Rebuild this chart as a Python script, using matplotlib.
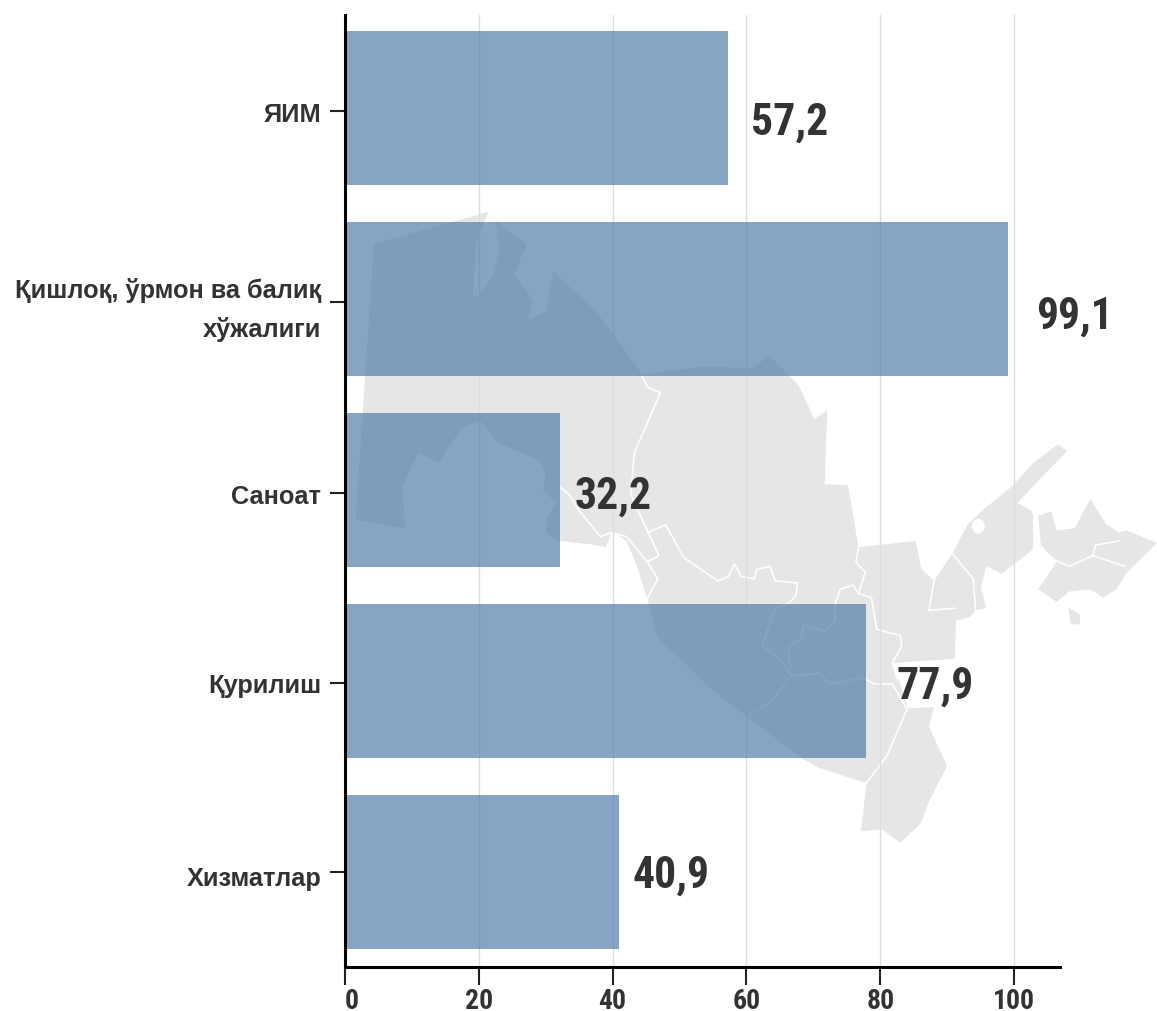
import matplotlib
matplotlib.use("Agg")
import matplotlib.pyplot as plt
from matplotlib.patches import Polygon, Ellipse
from matplotlib.transforms import ScaledTranslation

categories = ["ЯИМ", "Қишлоқ, ўрмон ва балиқ\nхўжалиги", "Саноат", "Қурилиш", "Хизматлар"]
values = [57.2, 99.1, 32.2, 77.9, 40.9]
value_labels = ["57,2", "99,1", "32,2", "77,9", "40,9"]
xticks = [0, 20, 40, 60, 80, 100]

# label nudges in points (dx, dy), the source placed them by hand
label_nudge = [(17, -10.5), (20, -12.5), (10, -5), (21.5, -4.2), (10, -2.7)]
tick_nudge = [0.018, 0.013, 0.016, 0.01, 0.0]
ylabel_nudge = [-1, 0.5, -0.8, -0.2, -3]

# background map outline, traced in pixels from a crop at (340, 200), scaled 1.919 by 2.376
map_main = [(30, 760), (125, 780), (120, 680), (150, 600), (190, 625), (215, 575), (235, 540), (270, 525),
            (300, 575), (385, 620), (395, 650), (390, 690), (415, 720), (395, 760), (395, 790), (420, 810),
            (480, 818), (510, 825), (522, 788), (550, 810), (570, 870),
            (590, 950), (610, 1040), (720, 1170), (890, 1330), (920, 1350), (1010, 1385), (1000, 1500),
            (1040, 1495), (1075, 1528), (1115, 1480), (1130, 1430), (1165, 1345), (1130, 1250), (1140, 1205),
            (1090, 1208), (1075, 1150), (1060, 1100), (1180, 1090), (1182, 1000), (1210, 990), (1220, 975),
            (1240, 970), (1230, 920), (1240, 870), (1270, 888), (1330, 830), (1330, 740), (1300, 720),
            (1330, 680), (1395, 597), (1378, 580), (1330, 625), (1290, 680), (1240, 730), (1205, 770),
            (1175, 840), (1140, 905), (1115, 875), (1105, 810), (995, 825), (975, 678), (930, 675),
            (935, 500), (910, 520), (880, 440), (825, 370), (790, 400), (700, 395), (580, 415), (495, 270),
            (410, 170), (395, 265), (360, 285), (370, 240), (335, 175), (358, 105), (300, 50), (305, 120),
            (295, 175), (265, 228), (255, 225), (262, 100), (285, 28), (65, 105)]
map_east = [(1340, 750), (1365, 740), (1375, 785), (1410, 780), (1440, 710), (1470, 770), (1495, 790),
            (1510, 785), (1568, 815), (1510, 885), (1490, 925), (1465, 945), (1440, 925), (1400, 930),
            (1375, 955), (1340, 925), (1375, 860), (1345, 820)]
map_islet = [(1397, 968), (1420, 985), (1420, 1008), (1403, 1008)]
map_borders = [
    [(580, 420), (590, 445), (615, 458), (565, 600), (558, 700), (612, 845), (590, 860), (610, 900), (590, 945)],
    [(590, 790), (625, 772), (660, 850), (725, 905), (745, 895), (757, 865), (770, 895), (795, 900), (800, 878),
     (825, 870), (835, 905), (878, 910), (875, 940), (860, 960), (835, 970), (810, 1060), (845, 1090), (865, 1130),
     (920, 1125), (940, 1150), (1005, 1135), (1025, 1150), (1060, 1150), (1088, 1210), (1050, 1320), (1010, 1385)],
    [(420, 680), (440, 700), (460, 740), (500, 800), (520, 790), (550, 800), (590, 860)],
    [(995, 825), (990, 860), (1008, 885), (995, 935), (1020, 945), (1030, 1020), (1075, 1035), (1078, 1060),
     (1060, 1100), (1070, 1140)],
    [(995, 935), (985, 915), (960, 925), (950, 960), (950, 1000), (930, 1025), (890, 1010), (885, 1045),
     (860, 1060), (865, 1130)],
    [(865, 1130), (830, 1190), (790, 1220)],
    [(1175, 840), (1215, 900), (1220, 975)],
    [(1140, 905), (1130, 975), (1180, 970)],
    [(1330, 740), (1340, 820), (1370, 855), (1400, 870), (1445, 845), (1505, 870)],
    [(1445, 845), (1450, 820), (1495, 810)],
]


def crop_to_px(points):
    return [(340 + x / 1.919, 200 + y / 2.376) for x, y in points]


plt.rcParams["font.family"] = ["Roboto Condensed", "Fira Sans Condensed", "DejaVu Sans"]
plt.rcParams["font.weight"] = "bold"
text_color = "#333333"

fig = plt.figure(figsize=(11.57, 10.11), dpi=100)

# map sits behind everything, in plain pixel coordinates
bg = fig.add_axes([0, 0, 1, 1], zorder=0)
bg.set_xlim(0, 1157)
bg.set_ylim(1011, 0)
bg.axis("off")
for shape in [map_main, map_east, map_islet]:
    bg.add_patch(Polygon(crop_to_px(shape), closed=True, facecolor="#e6e6e6", edgecolor="none"))
for border in map_borders:
    xs, ys = zip(*crop_to_px(border))
    bg.plot(xs, ys, color="white", lw=1.2)
bg.add_patch(Ellipse(crop_to_px([(1225, 775)])[0], 13, 15, facecolor="white", edgecolor="none"))

ax = fig.add_axes([345 / 1157, 1 - 967 / 1011, (1060 - 345) / 1157, (967 - 15) / 1011], zorder=1)
ax.patch.set_alpha(0)

positions = list(range(len(categories)))
ax.barh(positions, values, height=0.806, color="#4e79a7", alpha=0.68, zorder=3)

ax.set_xlim(0, 715 / 6.69)
ax.set_ylim(4.497, -0.487)
ax.set_xticks(xticks)
ax.set_yticks([p + n for p, n in zip(positions, tick_nudge)])
ax.set_yticklabels(categories, fontsize=18.3, color=text_color, linespacing=1.67,
                   family=["Liberation Sans", "DejaVu Sans"])
ax.set_xticklabels([str(t) for t in xticks], fontsize=20, color=text_color)
ax.tick_params(axis="y", length=11, width=1.5, color="#222222", pad=6)
ax.tick_params(axis="x", length=13, width=1.5, color="#222222", pad=2)
ax.grid(axis="x", color="#dddddd", lw=1, zorder=2)
ax.set_axisbelow(True)
ax.get_xticklabels()[0].set_ha("left")

for lab, dy in zip(ax.get_yticklabels(), ylabel_nudge):
    lab.set_transform(lab.get_transform() + ScaledTranslation(0, dy / 72, fig.dpi_scale_trans))

for side in ["top", "right"]:
    ax.spines[side].set_visible(False)
for side in ["left", "bottom"]:
    ax.spines[side].set_linewidth(2.2)
    ax.spines[side].set_color("black")
    ax.spines[side].set_zorder(4)

for pos, val, text, nudge in zip(positions, values, value_labels, label_nudge):
    ax.annotate(text, xy=(val, pos), xytext=nudge, textcoords="offset points",
                ha="left", va="center", fontsize=31.5, color=text_color, zorder=5)

fig.savefig("out.png", dpi=100)
